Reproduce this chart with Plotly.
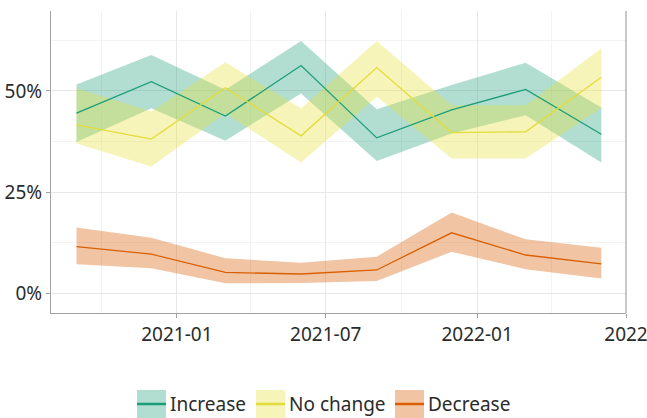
import plotly.graph_objects as go

# Survey waves (quarterly)
dates = ["2020-09-01", "2020-12-01", "2021-03-01", "2021-06-01",
         "2021-09-01", "2021-12-01", "2022-03-01", "2022-06-01"]

# Share of respondents per answer, with confidence bounds
increase_mid = [0.445, 0.523, 0.438, 0.563, 0.384, 0.453, 0.504, 0.393]
increase_lo  = [0.374, 0.457, 0.377, 0.494, 0.327, 0.395, 0.440, 0.323]
increase_hi  = [0.516, 0.589, 0.503, 0.624, 0.455, 0.515, 0.570, 0.459]

nochange_mid = [0.416, 0.381, 0.508, 0.389, 0.558, 0.397, 0.399, 0.534]
nochange_lo  = [0.370, 0.313, 0.445, 0.323, 0.486, 0.333, 0.333, 0.458]
nochange_hi  = [0.507, 0.449, 0.571, 0.457, 0.624, 0.465, 0.465, 0.606]

decrease_mid = [0.115, 0.096, 0.051, 0.047, 0.057, 0.149, 0.094, 0.072]
decrease_lo  = [0.071, 0.061, 0.024, 0.025, 0.030, 0.102, 0.059, 0.036]
decrease_hi  = [0.162, 0.137, 0.086, 0.075, 0.090, 0.199, 0.133, 0.112]

series_names = ["Increase", "No change", "Decrease"]
line_colors = ["#1b9e77", "#e3dc3a", "#d95f02"]
band_colors = ["rgba(27,158,119,0.34)", "rgba(230,225,60,0.36)", "rgba(217,95,2,0.36)"]

x_tick_vals = ["2021-01-01", "2021-07-01", "2022-01-01", "2022-07-01"]
x_tick_text = ["2021-01", "2021-07", "2022-01", "2022"]
x_minor_vals = ["2020-10-01", "2021-04-01", "2021-10-01", "2022-04-01"]
y_tick_vals = [0, 0.25, 0.5]
y_tick_text = ["0%", "25%", "50%"]
y_minor_vals = [0.125, 0.375, 0.625]

mids = [increase_mid, nochange_mid, decrease_mid]
los = [increase_lo, nochange_lo, decrease_lo]
his = [increase_hi, nochange_hi, decrease_hi]

FONT = "Noto Sans"
TEXT = "#2b2b2b"
AXIS = "#a3a3a3"

fig = go.Figure()

# Confidence ribbons first
for name, lo, hi, bc in zip(series_names, los, his, band_colors):
    fig.add_trace(go.Scatter(
        x=dates + dates[::-1], y=hi + lo[::-1],
        fill="toself", fillcolor=bc, mode="none",
        hoverinfo="skip", showlegend=False, name=name))

# Central estimates on top
for name, mid, lc in zip(series_names, mids, line_colors):
    fig.add_trace(go.Scatter(
        x=dates, y=mid, mode="lines", name=name,
        line=dict(color=lc, width=1.3), showlegend=False))

# Legend drawn below the plot: ribbon swatch with a line through it
plot_left, plot_right, plot_top, plot_bottom = 51, 626, 11, 313
pw, ph = plot_right - plot_left, plot_bottom - plot_top

def px_x(v):
    return (v - plot_left) / pw

def px_y(v):
    return (plot_bottom - v) / ph

legend_x = [137, 256, 395]
sw = 29
sw_top, sw_bot, sw_mid = 390, 418, 404
for lx, name, lc, bc in zip(legend_x, series_names, line_colors, band_colors):
    fig.add_shape(type="rect", xref="paper", yref="paper",
                  x0=px_x(lx), x1=px_x(lx + sw), y0=px_y(sw_bot), y1=px_y(sw_top),
                  fillcolor=bc, line=dict(width=0), layer="above")
    fig.add_shape(type="line", xref="paper", yref="paper",
                  x0=px_x(lx), x1=px_x(lx + sw), y0=px_y(sw_mid), y1=px_y(sw_mid),
                  line=dict(color=lc, width=2.5), layer="above")
    fig.add_annotation(xref="paper", yref="paper", x=px_x(lx + sw + 2), y=px_y(sw_mid),
                       xanchor="left", yanchor="middle", text=name, showarrow=False,
                       font=dict(family=FONT, size=19, color=TEXT))

# Right-hand frame line
fig.add_shape(type="line", xref="paper", yref="paper", x0=1, x1=1, y0=0, y1=1,
              line=dict(color=AXIS, width=1.2), layer="above")

fig.update_layout(
    width=647, height=418,
    margin=dict(l=plot_left, r=647 - plot_right, t=plot_top, b=418 - plot_bottom),
    paper_bgcolor="white", plot_bgcolor="white",
    font=dict(family=FONT, size=19, color=TEXT),
    showlegend=False,
    xaxis=dict(
        type="date", range=["2020-08-01", "2022-07-01"],
        tickvals=x_tick_vals, ticktext=x_tick_text,
        ticklabeloverflow="allow",
        showgrid=True, gridcolor="#e8e8e8", gridwidth=1,
        minor=dict(tickvals=x_minor_vals, showgrid=True, gridcolor="#f3f3f3", gridwidth=1),
        showline=True, linecolor=AXIS, linewidth=1.2,
        ticks="outside", ticklen=4, tickcolor=AXIS, tickwidth=1.2,
        tickfont=dict(family=FONT, size=19, color=TEXT),
        zeroline=False, automargin=False),
    yaxis=dict(
        range=[-0.0495, 0.698],
        tickvals=y_tick_vals, ticktext=y_tick_text,
        showgrid=True, gridcolor="#e8e8e8", gridwidth=1,
        minor=dict(tickvals=y_minor_vals, showgrid=True, gridcolor="#f3f3f3", gridwidth=1),
        showline=True, linecolor=AXIS, linewidth=1.2,
        ticks="outside", ticklen=4, tickcolor=AXIS, tickwidth=1.2,
        tickfont=dict(family=FONT, size=19, color=TEXT),
        zeroline=False, automargin=False),
)

fig.write_html("out.html")
